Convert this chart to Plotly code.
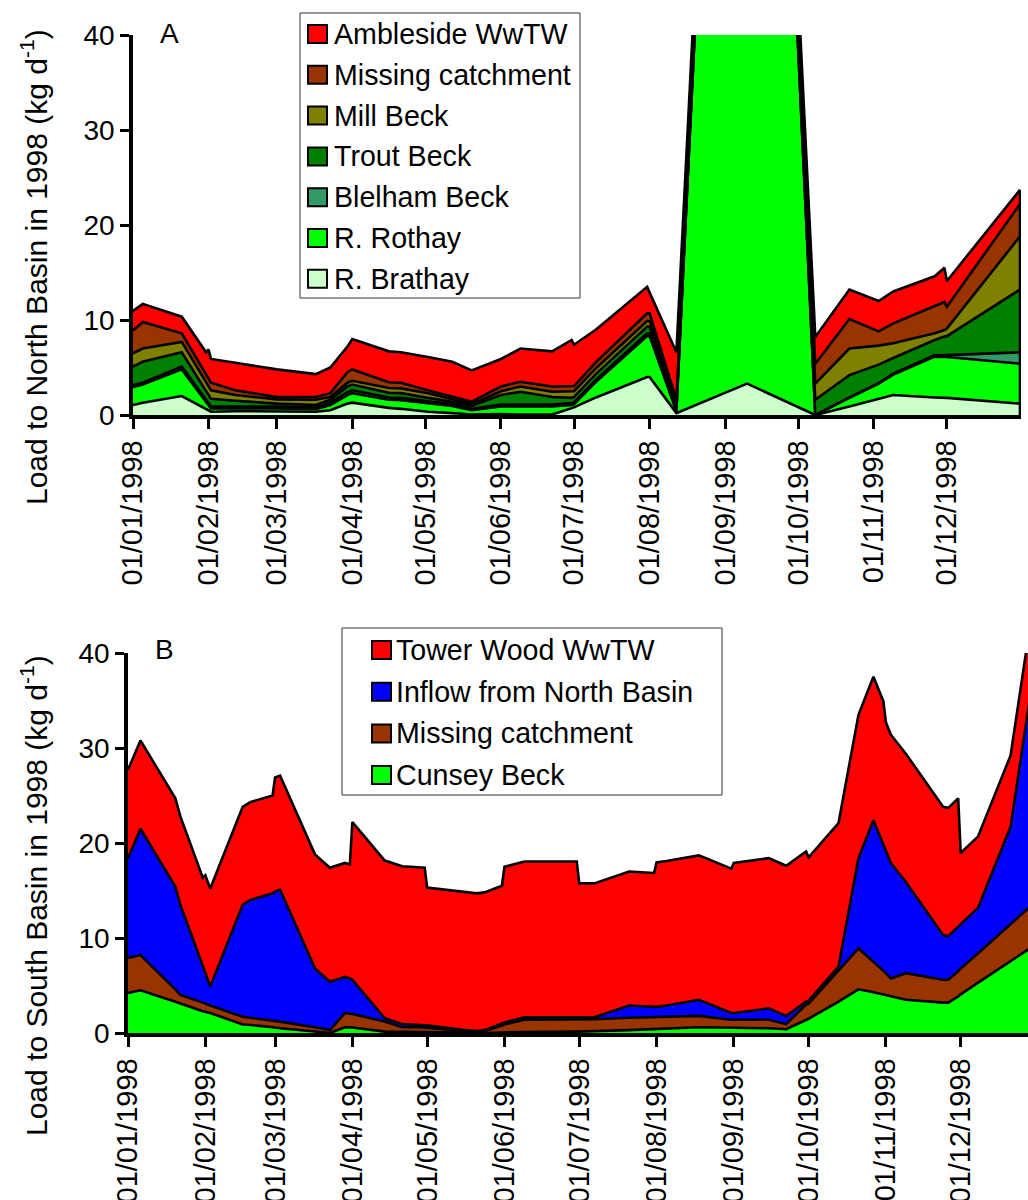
import plotly.graph_objects as go

FONT = "Liberation Sans, Arial, sans-serif"
W, H = 1028, 1200

# ---------------- North Basin (panel A) ----------------
dates_north = [
    "1998-01-01", "1998-01-05", "1998-01-21", "1998-01-31", "1998-02-01",
    "1998-02-02", "1998-02-12", "1998-03-01", "1998-03-17", "1998-03-23",
    "1998-03-30", "1998-04-01", "1998-04-16", "1998-04-21", "1998-05-02",
    "1998-05-12", "1998-05-20", "1998-06-01", "1998-06-09", "1998-06-22",
    "1998-06-30", "1998-07-01", "1998-07-10", "1998-07-31", "1998-08-01",
    "1998-08-12", "1998-09-10", "1998-10-08", "1998-10-22", "1998-11-03",
    "1998-11-09", "1998-11-26", "1998-11-30", "1998-12-01", "1998-12-31",
]
r_brathay = [1.05, 1.3, 2.0, 0.62, 0.49, 0.35, 0.4, 0.4, 0.35, 0.5,
             1.2, 1.3, 0.75, 0.65, 0.35, 0.2, 0.05, 0.1, 0.05, 0.05,
             0.75, 0.8, 1.85, 4.0, 4.0, 0.2, 3.3, 0.0, 0.9, 1.65,
             2.1, 1.85, 1.8, 1.8, 1.2]
r_rothay = [1.9, 1.9, 2.8, 0.76, 0.55, 0.35, 0.3, 0.3, 0.25, 0.55,
            0.9, 1.0, 0.85, 0.9, 0.9, 0.75, 0.45, 0.8, 0.85, 0.85,
            0.3, 0.35, 1.65, 4.3, 4.3, 0.2, 150.0, 0.0, 0.9, 1.65,
            2.15, 4.3, 4.3, 4.3, 4.2]
blelham_beck = [0.2, 0.2, 0.3, 0.22, 0.21, 0.2, 0.2, 0.2, 0.2, 0.25,
                0.3, 0.3, 0.25, 0.25, 0.2, 0.2, 0.15, 0.2, 0.2, 0.2,
                0.2, 0.2, 0.23, 0.3, 0.3, 0.1, 0.0, 0.0, 0.05, 0.05,
                0.1, 0.15, 0.2, 0.2, 1.2]
trout_beck = [1.95, 2.2, 1.5, 0.92, 0.85, 0.8, 0.6, 0.3, 0.25, 0.3,
              0.6, 0.6, 0.5, 0.5, 0.35, 0.25, 0.3, 1.0, 1.35, 0.8,
              0.55, 0.55, 0.6, 0.7, 0.7, 0.5, 0.0, 1.6, 2.35, 1.95,
              1.65, 1.6, 1.95, 2.0, 6.6]
mill_beck = [1.4, 1.4, 1.1, 0.93, 0.9, 0.9, 0.6, 0.45, 0.55, 0.3,
             0.4, 0.4, 0.5, 0.5, 0.5, 0.3, 0.2, 0.4, 0.55, 0.55,
             0.65, 0.6, 0.6, 0.6, 0.6, 0.3, 0.0, 1.7, 2.8, 2.0,
             1.55, 0.7, 0.7, 0.8, 5.6]
missing_north = [2.4, 2.8, 0.9, 0.82, 0.8, 0.8, 0.5, 0.25, 0.3, 0.4,
                 1.1, 1.2, 0.6, 0.6, 0.3, 0.2, 0.25, 0.5, 0.5, 0.55,
                 0.55, 0.55, 0.63, 0.8, 0.8, 0.3, 0.0, 2.1, 3.1, 1.5,
                 2.1, 2.9, 2.95, 2.3, 3.4]
ambleside_wwtw = [2.05, 1.9, 1.75, 2.33, 3.1, 2.5, 2.9, 2.9, 2.4, 2.7,
                  2.7, 3.2, 3.25, 3.2, 3.5, 3.7, 3.3, 2.9, 3.5, 3.7,
                  4.9, 4.35, 3.44, 2.8, 2.2, 5.0, 0.0, 2.8, 3.1, 3.2,
                  3.35, 3.1, 3.6, 2.7, 1.5]

# ---------------- South Basin (panel B) ----------------
dates_south = [
    "1998-01-01", "1998-01-06", "1998-01-20", "1998-01-22", "1998-01-31",
    "1998-02-01", "1998-02-03", "1998-02-16", "1998-02-19", "1998-02-28",
    "1998-03-01", "1998-03-03", "1998-03-17", "1998-03-23", "1998-03-29",
    "1998-03-31", "1998-04-01", "1998-04-14", "1998-04-21", "1998-04-28",
    "1998-04-30", "1998-05-01", "1998-05-15", "1998-05-21", "1998-05-24",
    "1998-05-31", "1998-06-01", "1998-06-09", "1998-06-30", "1998-07-01",
    "1998-07-07", "1998-07-21", "1998-07-31", "1998-08-01", "1998-08-05",
    "1998-08-18", "1998-08-31", "1998-09-01", "1998-09-15", "1998-09-22",
    "1998-09-30", "1998-10-01", "1998-10-13", "1998-10-21", "1998-10-27",
    "1998-10-31", "1998-11-01", "1998-11-03", "1998-11-09", "1998-11-24",
    "1998-11-26", "1998-11-30", "1998-12-01", "1998-12-08", "1998-12-21",
    "1998-12-31",
]
cunsey_beck = [4.2, 4.5, 3.3, 3.1, 2.3, 2.25, 2.1, 0.9, 0.85, 0.6,
               0.55, 0.5, 0.15, 0.0, 0.6, 0.6, 0.58, 0.15, 0.1, 0.1,
               0.1, 0.1, 0.05, 0.0, 0.0, 0.05, 0.05, 0.1, 0.15, 0.15,
               0.2, 0.3, 0.4, 0.4, 0.45, 0.6, 0.55, 0.55, 0.5, 0.4,
               1.4, 1.5, 3.3, 4.6, 4.3, 4.05, 4.0, 3.9, 3.5, 3.2,
               3.2, 3.85, 4.07, 5.3, 7.55, 9.3]
missing_south = [3.7, 3.7, 1.3, 0.9, 0.9, 0.85, 0.8, 0.8, 0.75, 0.7,
                 0.7, 0.7, 0.45, 0.3, 1.5, 1.4, 1.42, 1.05, 0.5, 0.5,
                 0.45, 0.45, 0.2, 0.15, 0.2, 0.75, 0.85, 1.3, 1.3, 1.3,
                 1.25, 1.3, 1.25, 1.25, 1.25, 1.2, 0.85, 0.85, 0.9, 0.55,
                 1.6, 1.6, 3.3, 4.3, 3.2, 2.55, 2.3, 1.85, 2.8, 2.4,
                 2.4, 2.65, 2.73, 3.1, 3.9, 4.5]
inflow_north_basin = [10.5, 13.3, 10.8, 9.5, 3.85, 3.2, 2.0, 11.8, 12.4, 13.4,
                      13.65, 13.9, 6.2, 5.1, 3.8, 3.75, 3.6, 0.35, 0.35, 0.24,
                      0.25, 0.25, 0.1, 0.05, 0.1, 0.2, 0.2, 0.25, 0.2, 0.2,
                      0.2, 1.3, 1.1, 1.1, 1.2, 1.7, 0.7, 0.7, 1.2, 0.85,
                      0.3, 0.3, 0.4, 9.5, 14.9, 13.2, 12.9, 12.15, 9.6, 4.7,
                      4.6, 4.7, 4.65, 4.8, 10.25, 25.4]
tower_wood_wwtw = [9.3, 9.3, 9.3, 9.3, 9.3, 10.3, 10.3, 10.3, 10.3, 10.3,
                   12.0, 12.0, 12.0, 12.0, 12.0, 12.0, 16.6, 16.6, 16.6, 16.6,
                   16.6, 14.5, 14.5, 14.5, 14.5, 14.5, 16.4, 16.4, 16.4, 14.1,
                   14.1, 14.1, 14.1, 15.2, 15.2, 15.2, 15.2, 15.8, 15.8, 15.8,
                   15.8, 15.1, 15.1, 15.1, 15.1, 15.1, 13.5, 13.5, 13.5, 13.5,
                   13.5, 13.5, 7.5, 7.5, 7.5, 7.5]

month_ticks = ["1998-%02d-01" % m for m in range(1, 13)]
month_labels = ["01/%02d/1998" % m for m in range(1, 13)]
y_ticks = [0, 10, 20, 30, 40]

# Stacking order, bottom layer first: (legend text, values, fill colour)
north_layers = [
    ("R. Brathay", r_brathay, "#CCFFCC"),
    ("R. Rothay", r_rothay, "#00FF00"),
    ("Blelham Beck", blelham_beck, "#339966"),
    ("Trout Beck", trout_beck, "#008000"),
    ("Mill Beck", mill_beck, "#808000"),
    ("Missing catchment", missing_north, "#993300"),
    ("Ambleside WwTW", ambleside_wwtw, "#FF0000"),
]
south_layers = [
    ("Cunsey Beck", cunsey_beck, "#00FF00"),
    ("Missing catchment", missing_south, "#993300"),
    ("Inflow from North Basin", inflow_north_basin, "#0000FF"),
    ("Tower Wood WwTW", tower_wood_wwtw, "#FF0000"),
]

fig = go.Figure()

for name, vals, col in north_layers:
    fig.add_trace(go.Scatter(
        x=dates_north, y=vals, name=name, stackgroup="north", mode="lines",
        line=dict(color="black", width=2.6), fillcolor=col,
        xaxis="x", yaxis="y", showlegend=False, hoverinfo="skip"))

# closing edge of the stacked area on the last sampling date
north_total_last = sum(layer[1][-1] for layer in north_layers)
fig.add_trace(go.Scatter(
    x=[dates_north[-1], dates_north[-1]], y=[0, north_total_last],
    mode="lines", line=dict(color="black", width=2.6),
    xaxis="x", yaxis="y", showlegend=False, hoverinfo="skip"))

for name, vals, col in south_layers:
    fig.add_trace(go.Scatter(
        x=dates_south, y=vals, name=name, stackgroup="south", mode="lines",
        line=dict(color="black", width=2.6), fillcolor=col,
        xaxis="x2", yaxis="y2", showlegend=False, hoverinfo="skip"))


def px_x(v):
    return v / W


def px_y(v):
    return 1 - v / H


def x_axis(domain, anchor, end):
    return dict(
        domain=domain, anchor=anchor, type="date", range=["1998-01-01", end],
        tickmode="array", tickvals=month_ticks, ticktext=month_labels,
        tickangle=-90, ticks="outside", ticklen=10, tickwidth=3,
        tickcolor="black", showline=True, linewidth=3.5, linecolor="black",
        showgrid=False, zeroline=False, automargin=False,
        tickfont=dict(family=FONT, size=29, color="black"))


def y_axis(domain, anchor):
    return dict(
        domain=domain, anchor=anchor, range=[0, 40], tickmode="array",
        tickvals=y_ticks, ticks="outside", ticklen=9, tickwidth=3,
        tickcolor="black", showline=True, linewidth=3.5, linecolor="black",
        showgrid=False, zeroline=False, automargin=False,
        tickfont=dict(family=FONT, size=28, color="black"))


shapes = []
annotations = []


def add_legend(box, rows, swatch_x, text_x, row_centers, size):
    x0, y0, x1, y1 = box
    shapes.append(dict(type="rect", xref="paper", yref="paper",
                       x0=px_x(x0), x1=px_x(x1), y0=px_y(y1), y1=px_y(y0),
                       line=dict(color="#333333", width=1), fillcolor="white",
                       layer="above"))
    for (name, col), cy in zip(rows, row_centers):
        shapes.append(dict(type="rect", xref="paper", yref="paper",
                           x0=px_x(swatch_x), x1=px_x(swatch_x + 19),
                           y0=px_y(cy + 9), y1=px_y(cy - 9),
                           line=dict(color="black", width=2), fillcolor=col,
                           layer="above"))
        annotations.append(dict(text=name, xref="paper", yref="paper",
                                x=px_x(text_x), y=px_y(cy), xanchor="left",
                                yanchor="middle", showarrow=False,
                                font=dict(family=FONT, size=size, color="black")))


north_rows = [(n, c) for n, _, c in reversed(north_layers)]
add_legend((300, 13, 580, 298), north_rows, 308, 332,
           [34 + 40.8 * i for i in range(len(north_rows))], 28.6)
south_rows = [(n, c) for n, _, c in reversed(south_layers)]
add_legend((342, 628, 722, 795), south_rows, 372, 394,
           [650 + 41.7 * i for i in range(len(south_rows))], 28.6)

for label, cx, cy in [("A", 169, 34), ("B", 164, 649)]:
    annotations.append(dict(text=label, xref="paper", yref="paper",
                            x=px_x(cx), y=px_y(cy), xanchor="center",
                            yanchor="middle", showarrow=False,
                            font=dict(family=FONT, size=28, color="black")))

for title, cy in [("Load to North Basin in 1998 (kg d<sup>-1</sup>)", 267),
                  ("Load to South Basin in 1998 (kg d<sup>-1</sup>)", 896)]:
    annotations.append(dict(text=title, xref="paper", yref="paper",
                            x=px_x(34), y=px_y(cy), xanchor="center",
                            yanchor="middle", textangle=-90, showarrow=False,
                            font=dict(family=FONT, size=30, color="black")))

fig.update_layout(
    width=W, height=H, margin=dict(l=0, r=0, t=0, b=0, autoexpand=False),
    paper_bgcolor="white", plot_bgcolor="white", showlegend=False,
    template="none",
    xaxis=x_axis([133 / W, 1021 / W], "y", "1998-12-31 10:00"),
    yaxis=y_axis([1 - 415 / H, 1 - 35 / H], "x"),
    xaxis2=x_axis([128 / W, 1.0], "y2", "1998-12-28"),
    yaxis2=y_axis([1 - 1033 / H, 1 - 653 / H], "x2"),
    shapes=shapes, annotations=annotations,
)

fig.write_html("out.html")
